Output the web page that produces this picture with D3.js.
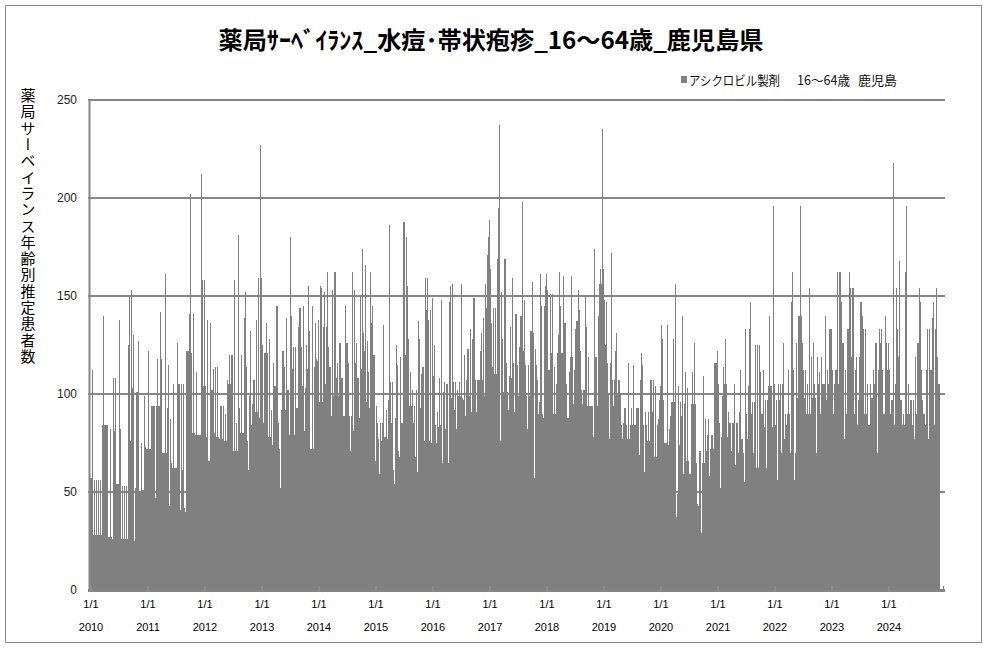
<!DOCTYPE html>
<html>
<head>
<meta charset="utf-8">
<script src="https://cdn.jsdelivr.net/npm/d3@7"></script>
<style>
  body { margin: 0; background: #fff; }
  text { font-family: "Noto Sans CJK JP", sans-serif; }
</style>
</head>
<body>
<div id="chart"></div>
<script>
// values, roughly one per pixel column (~6 days)
var years = [2010, 2011, 2012, 2013, 2014, 2015, 2016, 2017, 2018, 2019, 2020, 2021, 2022, 2023, 2024];

var v2010 = [57,57,57,112,28,56,28,56,28,56,28,56,28,84,140,84,84,84,84,27,27,82,27,26,108,81,108,54,54,54,138,82,26,53,26,53,26,53,26,125,150,76,153,103,130,25,52,101,101,127,50,50,75,51,51,99,73];
var v2011 = [72,72,122,72,72,94,94,94,47,94,118,94,94,142,118,70,70,161,70,93,115,43,87,65,62,105,62,62,126,105,105,41,105,61,105,42,40,122,122,141,202,121,80,141,80,79,111,79,79,79,212,158];
var v2012 = [104,158,104,78,138,66,136,102,102,113,80,114,78,114,78,77,94,77,94,76,90,76,107,105,120,105,120,71,158,71,85,71,181,93,80,120,80,139,152,114,76,61,99,132,84,95,107,91,138,91,159,88];
var v2013 = [227,159,125,85,121,136,121,78,128,78,92,74,116,104,104,145,85,72,52,92,122,122,114,92,139,102,79,180,140,113,124,79,124,93,93,134,144,124,104,145,81,103,125,113,155,132,72,145,72,114,136,118];
var v2014 = [117,138,96,155,154,96,134,152,105,134,162,124,114,114,89,153,99,162,162,108,116,99,126,126,108,108,89,89,145,126,116,89,71,89,162,81,153,116,126,108,108,88,150,113,174,131,122,166,96,127,111,93,162,136,145,120];
var v2015 = [120,66,94,85,77,59,85,76,85,135,78,92,77,97,186,106,85,106,61,54,88,125,115,71,68,119,85,85,188,120,180,155,128,94,111,94,102,85,94,68,102,60,137,128,93,110,114,76,159,143,159,138,76,143];
var v2016 = [75,149,109,125,84,75,91,83,108,84,148,65,101,106,82,105,65,147,155,98,156,106,92,106,82,102,99,106,99,156,98,97,120,89,107,123,123,99,133,91,128,149,107,91,107,107,107,122,131,107,139,99,156,144,171];
var v2017 = [180,189,164,136,114,144,110,144,110,169,195,237,76,152,128,101,169,169,116,101,92,109,134,108,159,116,91,141,141,115,99,124,140,140,198,122,148,115,99,82,115,99,132,132,157,131,57,123,115,107,90,96,161,145,90,88,145];
var v2018 = [155,161,153,112,112,151,121,151,90,114,90,105,121,130,162,145,121,121,160,136,136,105,88,88,111,119,160,119,95,112,133,137,137,153,143,122,102,95,102,102,150,134,94,119,94,94,94,94,78,174,119,119,94,140,156,164,156];
var v2019 = [235,164,148,125,147,116,100,77,116,172,107,94,107,122,131,100,107,107,100,84,77,85,93,93,84,77,116,77,84,93,84,115,84,84,93,93,93,69,107,121,115,84,60,91,84,76,91,76,107,107,91,107,68,104,68,84,87];
var v2020 = [97,104,135,128,97,75,75,75,135,74,82,89,96,96,128,96,156,37,49,104,74,96,89,140,59,95,111,66,103,66,59,95,111,95,126,95,65,44,43,71,71,29,65,109,65,87,71,79,87,58,72,79,79,72,116,116];
var v2021 = [116,122,105,85,52,78,99,114,105,128,105,78,91,85,85,71,85,85,105,64,85,85,70,91,112,77,77,70,77,55,133,90,77,104,133,147,90,96,70,96,125,62,125,62,125,111,90,90,112,83,97,62,97,104,140,104,104,83];
var v2022 = [196,105,84,97,56,105,97,105,70,105,126,77,90,84,90,112,90,70,147,162,112,56,70,126,98,140,140,196,140,126,112,98,112,90,105,90,154,90,119,98,126,105,98,70,119,105,111,90,119,105,105,105,140,97,112,105,133];
var v2023 = [133,133,112,90,105,112,112,162,105,162,162,147,126,126,77,112,90,133,133,162,154,119,154,154,90,112,119,84,97,119,147,147,140,133,90,133,90,105,84,84,105,98,98,112,105,126,126,70,112,133,126,133,112,90,90,140,126];
var v2024 = [112,126,112,90,97,97,218,84,105,154,133,119,168,97,97,84,90,84,162,196,90,105,90,97,97,84,97,77,119,90,126,126,154,147,112,97,90,90,84,112,133,77,133,112,112,139,147,84,133,154,119,105,105,0,0,0,2];

var series = [v2010, v2011, v2012, v2013, v2014, v2015, v2016, v2017, v2018, v2019, v2020, v2021, v2022, v2023, v2024];
var yTicks = [0, 50, 100, 150, 200, 250];

var titleText = "薬局ｻｰﾍﾞｲﾗﾝｽ_水痘･帯状疱疹_16～64歳_鹿児島県";
var legendParts = ["アシクロビル製剤", "16～64歳", "鹿児島"];
var yTitle = "薬局サーベイランス年齢別推定患者数";

(function() {
  var width = 987, height = 648;
  var barColor = "#808080", gridColor = "#868686";

  var svg = d3.select("#chart")
    .append("svg")
    .attr("width", width)
    .attr("height", height);

  // outer frame
  svg.append("rect")
    .attr("x", 5.5).attr("y", 5.5)
    .attr("width", 976).attr("height", 637)
    .attr("fill", "#fff")
    .attr("stroke", "#8c8c8c");

  var x = d3.scaleTime()
    .domain([new Date(2010, 0, 1), new Date(2025, 0, 1)])
    .range([89, 944]);

  var y = d3.scaleLinear().domain([0, 250]).range([590, 100]);

  // gridlines (behind the bars)
  svg.append("g").selectAll("line")
    .data(yTicks)
    .enter().append("line")
    .attr("x1", 88).attr("x2", 945)
    .attr("y1", function(d) { return Math.round(y(d)); })
    .attr("y2", function(d) { return Math.round(y(d)); })
    .attr("stroke", gridColor)
    .attr("stroke-width", 2);

  // build bars from the yearly arrays
  var bars = [];
  series.forEach(function(vals, k) {
    var start = new Date(years[k], 0, 1), end = new Date(years[k] + 1, 0, 1);
    var step = (end - start) / vals.length;
    vals.forEach(function(v, i) {
      bars.push({ from: new Date(+start + i * step), to: new Date(+start + (i + 1) * step), value: v });
    });
  });

  svg.append("g").selectAll("rect")
    .data(bars)
    .enter().append("rect")
    .attr("shape-rendering", "crispEdges")
    .attr("x", function(d) { return Math.round(x(d.from)); })
    .attr("width", function(d) { return Math.max(0, Math.round(x(d.to)) - Math.round(x(d.from))); })
    .attr("y", function(d) { return Math.round(y(d.value)); })
    .attr("height", function(d) { return 591 - Math.round(y(d.value)); })
    .attr("fill", barColor);

  // axis lines
  svg.append("line")
    .attr("x1", 89.5).attr("x2", 89.5).attr("y1", 99).attr("y2", 592)
    .attr("stroke", gridColor).attr("stroke-width", 2);
  svg.append("line")
    .attr("x1", 88).attr("x2", 945).attr("y1", 591).attr("y2", 591)
    .attr("stroke", gridColor).attr("stroke-width", 2);

  // y labels
  svg.append("g").selectAll("text")
    .data(yTicks)
    .enter().append("text")
    .attr("x", 77)
    .attr("y", function(d) { return y(d) + 4; })
    .attr("text-anchor", "end")
    .style("font-family", "'Liberation Sans', sans-serif")
    .style("font-size", "12px")
    .attr("fill", "#222")
    .text(function(d) { return d; });

  // x axis: two rows of labels
  var yearDates = years.map(function(yr) { return new Date(yr, 0, 1); });

  var xAxis = d3.axisBottom(x)
    .tickValues(yearDates)
    .tickSizeInner(-5)
    .tickSizeOuter(0)
    .tickPadding(9)
    .tickFormat(d3.timeFormat("%-m/%-d"));
  var gx = svg.append("g")
    .attr("class", "axis x-axis")
    .attr("transform", "translate(1.5,591)")
    .call(xAxis);
  gx.select(".domain").remove();
  gx.selectAll("line").attr("stroke", "#9a9a9a");

  var xAxis2 = d3.axisBottom(x)
    .tickValues(yearDates)
    .tickSize(0)
    .tickPadding(32)
    .tickFormat(d3.timeFormat("%Y"));
  var gx2 = svg.append("g")
    .attr("class", "axis x-axis2")
    .attr("transform", "translate(1.5,591)")
    .call(xAxis2);
  gx2.select(".domain").remove();

  svg.selectAll(".axis text")
    .style("font-family", "'Liberation Sans', sans-serif")
    .style("font-size", "11px")
    .attr("fill", "#000");

  // title
  svg.append("text")
    .attr("x", 491).attr("y", 49)
    .attr("text-anchor", "middle")
    .attr("textLength", 545)
    .attr("lengthAdjust", "spacingAndGlyphs")
    .style("font-size", "24px")
    .style("font-weight", "bold")
    .text(titleText);

  // legend
  svg.append("rect")
    .attr("x", 681).attr("y", 76).attr("width", 6).attr("height", 7)
    .attr("fill", barColor);
  var legendX = [689, 797, 858], legendW = [91, 53, 39];
  svg.append("g").selectAll("text")
    .data(legendParts)
    .enter().append("text")
    .attr("x", function(d, i) { return legendX[i]; })
    .attr("y", 85)
    .attr("textLength", function(d, i) { return legendW[i]; })
    .attr("lengthAdjust", "spacingAndGlyphs")
    .style("font-size", "13px")
    .attr("fill", "#111")
    .text(function(d) { return d; });

  // y axis title, vertical
  svg.append("text")
    .attr("x", 28).attr("y", 88)
    .style("writing-mode", "vertical-rl")
    .style("text-orientation", "upright")
    .style("font-size", "15px")
    .style("letter-spacing", "1.3px")
    .text(yTitle);
})();
</script>
</body>
</html>
